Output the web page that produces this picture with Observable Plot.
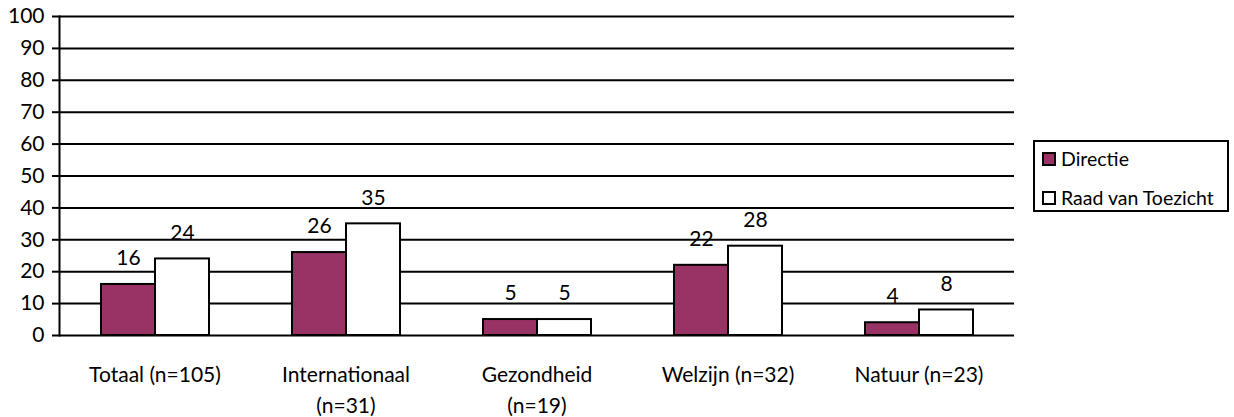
<!DOCTYPE html>
<html>
<head>
<meta charset="utf-8">
<script src="https://cdn.jsdelivr.net/npm/d3@7"></script>
<script src="https://cdn.jsdelivr.net/npm/@observablehq/plot@0.6"></script>
<style>
  body { margin: 0; background: #fff; font-family: Lato, "Open Sans", sans-serif; }
  #wrap { position: relative; width: 1234px; height: 417px; }
  #legend { position: absolute; left: 1033px; top: 140px; width: 192px; height: 68px;
    border: 2px solid #000; font-size: 19.5px; color: #000; background: #fff; }
  .item { position: absolute; left: 7px; display: flex; align-items: center; line-height: 20px; white-space: nowrap; }
  .sw { width: 10px; height: 10px; border: 2px solid #000; margin-right: 5px; }
</style>
</head>
<body>
<div id="wrap"></div>
<script>
const categories = ["Totaal (n=105)", "Internationaal\n(n=31)", "Gezondheid\n(n=19)", "Welzijn (n=32)", "Natuur (n=23)"];
const series = ["Directie", "Raad van Toezicht"];
const directie = [16, 26, 5, 22, 4];
const raad = [24, 35, 5, 28, 8];
const colors = ["#993366", "#ffffff"];
const yTicks = [0, 10, 20, 30, 40, 50, 60, 70, 80, 90, 100];

const data = [];
categories.forEach((c, i) => {
  data.push({cat: c, series: series[0], value: directie[i]});
  data.push({cat: c, series: series[1], value: raad[i]});
});

const FS = 21;
const chart = Plot.plot({
  width: 1234,
  height: 417,
  marginLeft: 58,
  marginRight: 220,
  marginTop: 16,
  marginBottom: 82,
  style: {fontFamily: "Lato, 'Open Sans', sans-serif", fontSize: FS + "px", color: "#000", background: "#fff"},
  fx: {domain: categories, padding: 0, label: null},
  x: {domain: series, paddingInner: 0, paddingOuter: 0.75, axis: null},
  y: {domain: [0, 100], label: null},
  color: {domain: series, range: colors},
  marks: [
    Plot.ruleY(yTicks, {stroke: "#000", strokeWidth: 2}),
    Plot.barY(data, {fx: "cat", x: "series", y: "value", fill: "series", stroke: "#000", strokeWidth: 2}),
    Plot.text(data, {fx: "cat", x: "series", y: "value", text: d => String(d.value), dy: -26, fontSize: FS, fill: "#000"}),
    Plot.frame({anchor: "left", facetAnchor: "left", stroke: "#000", strokeWidth: 2}),
    Plot.axisY({ticks: yTicks, tickSize: 7, tickPadding: 8, strokeWidth: 2, label: null, fontSize: FS}),
    Plot.axisFx({anchor: "bottom", tickSize: 0, tickPadding: 25, label: null, fontSize: FS, lineHeight: 1.45})
  ]
});
const wrap = document.getElementById("wrap");
wrap.appendChild(chart);

const legend = document.createElement("div");
legend.id = "legend";
series.forEach((s, i) => {
  const it = document.createElement("div");
  it.className = "item";
  it.style.top = (i === 0 ? 7 : 46) + "px";
  const sw = document.createElement("span");
  sw.className = "sw";
  sw.style.background = colors[i];
  const t = document.createElement("span");
  t.textContent = s;
  it.appendChild(sw); it.appendChild(t);
  legend.appendChild(it);
});
wrap.appendChild(legend);
</script>
</body>
</html>
